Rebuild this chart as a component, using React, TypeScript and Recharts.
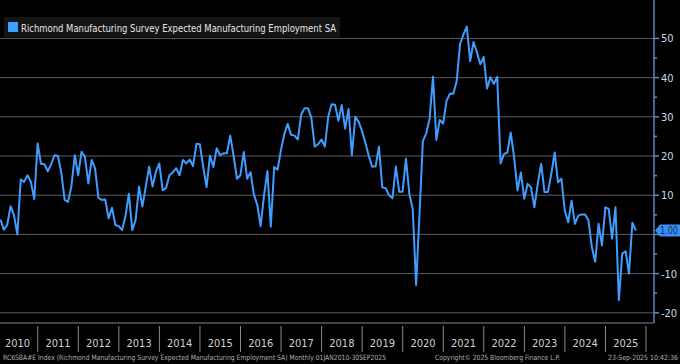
import React from 'react';
import { LineChart, Line, XAxis, YAxis, ReferenceLine } from 'recharts';

const years = [2010, 2011, 2012, 2013, 2014, 2015, 2016, 2017, 2018, 2019, 2020, 2021, 2022, 2023, 2024, 2025];

const v2010 = [3.8, 1.2, 2.4, 7.2, 4.9, 0, 14, 13.4, 15.1, 13.4, 9.0, 23.2];
const v2011 = [18, 17.9, 16.1, 17.9, 20.2, 20, 15.8, 8.8, 8.3, 12.3, 20.2, 15.1];
const v2012 = [21.1, 19.8, 13, 19, 16.8, 9.3, 8.8, 8.9, 4.1, 6.8, 2.4, 2.1];
const v2013 = [1.1, 4.7, 10.4, 1.1, 3.7, 12.2, 7.1, 12.2, 17.3, 12.2, 16, 18.1];
const v2014 = [11.3, 11.8, 15.1, 15.8, 16.9, 15.1, 19, 18.1, 19.1, 17.4, 23.1, 23];
const v2015 = [17.2, 12.1, 20.1, 17.2, 22, 20.2, 20.7, 20.7, 25.2, 20, 14.2, 15.1];
const v2016 = [21, 14.2, 15.9, 10.2, 7.5, 2.1, 10, 16.2, 2, 17.2, 16.5, 21.5];
const v2017 = [25.6, 28.2, 25.4, 25.2, 24.2, 30.6, 32.2, 32.2, 29.8, 22.4, 23, 24.2];
const v2018 = [22.4, 30, 33.2, 33.1, 29, 33, 27, 32, 20.2, 30, 28.7, 26.4];
const v2019 = [23.4, 20, 17.3, 17.3, 22.4, 12, 11.8, 10, 9.2, 17.3, 10.9, 10.9];
const v2020 = [19.3, 10.3, 6.5, -12.9, 5, 23.8, 25.8, 29.5, 40.2, 24.1, 29.2, 28.3];
const v2021 = [34, 35.9, 35.9, 39, 48.5, 51, 53, 44.2, 49.1, 46.4, 43.4, 45.3];
const v2022 = [37.2, 40.1, 38.4, 40.2, 18.1, 20.5, 20.9, 26, 19.7, 11.2, 15.8, 9.1];
const v2023 = [12.9, 12, 6.9, 12.9, 18, 10.8, 10.8, 15.4, 20.9, 13.3, 14.2, 6.1];
const v2024 = [3.1, 8.6, 2.7, 4.8, 5.1, 5.1, 3.6, -3.2, -7, 2.7, -2.8, 6.9];
const v2025 = [6.5, -1.1, 6.9, -16.8, -4.9, -4.3, -10, 3, 1.0];

const valuesByYear = [v2010, v2011, v2012, v2013, v2014, v2015, v2016, v2017, v2018, v2019, v2020, v2021, v2022, v2023, v2024, v2025];

const yTicks = [-20, -15, -10, -5, 0, 5, 10, 15, 20, 25, 30, 35, 40, 45, 50];
const gridValues = [-20, -10, 0, 10, 20, 30, 40, 50];
const xLabelTicks = years.map((y) => y + 0.5);

const seriesName = 'Richmond Manufacturing Survey Expected Manufacturing Employment SA';
const footerLeft = 'RC6SBA#E Index (Richmond Manufacturing Survey Expected Manufacturing Employment SA)  Monthly 01JAN2010-30SEP2025';
const footerMid = 'Copyright\u00A9 2025 Bloomberg Finance L.P.';
const footerRight = '23-Sep-2025 10:42:36';

const data = valuesByYear.flatMap((vals, yi) =>
  vals.map((v, mi) => ({ t: years[yi] + (mi + 1) / 12 - 0.003, v }))
);
const lastValue = data[data.length - 1].v;

const W = 680;
const H = 364;
const Y_AXIS_W = 26;
const X_AXIS_H = 41;
const X_DOMAIN: [number, number] = [2010.069, 2026.197];
const Y_DOMAIN: [number, number] = [-22.6, 59.8];
const HALF_YEAR_PX = (W - Y_AXIS_W) / (X_DOMAIN[1] - X_DOMAIN[0]) / 2;

const LINE_COLOR = '#3f9dff';
const FONT = "'DejaVu Sans Condensed', 'Liberation Sans Narrow', 'DejaVu Sans', Arial, sans-serif";

const XTick = (props: any) => {
  const { x, y, payload } = props;
  const isLast = payload.value > 2025;
  return (
    <g>
      <line x1={x - HALF_YEAR_PX} x2={x - HALF_YEAR_PX} y1={y - 4} y2={y + 22} stroke="#8a8a8a" strokeWidth={1} />
      {isLast && (
        <line x1={x + HALF_YEAR_PX} x2={x + HALF_YEAR_PX} y1={y - 4} y2={y + 22} stroke="#8a8a8a" strokeWidth={1} />
      )}
      <text x={x} y={y + 17} textAnchor="middle" fill="#d0d0d0" fontSize={11} fontFamily={FONT}>
        {Math.floor(payload.value)}
      </text>
    </g>
  );
};

const YTick = (props: any) => {
  const { x, y, payload } = props;
  const v = payload.value;
  const major = v % 10 === 0;
  const hidden = Math.abs(v - lastValue) < 3;
  return (
    <g>
      <line x1={x - 7} x2={x - (major ? 2 : 4)} y1={y} y2={y} stroke="#4f8fd8" strokeWidth={1.5} />
      {major && !hidden && (
        <text x={x} y={y + 4} textAnchor="start" fill="#d8d8d8" fontSize={11} fontFamily={FONT}>
          {v}
        </text>
      )}
    </g>
  );
};

const ValueTag = (props: any) => {
  const vb = props.viewBox || {};
  const x0 = (vb.x || 0) + (vb.width || 0) + 1;
  const y0 = vb.y || 0;
  return (
    <g>
      <polygon
        points={`${x0},${y0} ${x0 + 5},${y0 - 6} ${W},${y0 - 6} ${W},${y0 + 6} ${x0 + 5},${y0 + 6}`}
        fill="#3b8ff0"
      />
      <text x={x0 + 5} y={y0 + 4} fill="#0d2a5c" fontSize={10} fontFamily={FONT} textLength={18} lengthAdjust="spacingAndGlyphs">
        {lastValue.toFixed(2)}
      </text>
    </g>
  );
};

export default function App() {
  return (
    <div style={{ position: 'absolute', left: 0, top: 0, width: W, height: H, background: '#000' }}>
      <LineChart width={W} height={H} data={data} margin={{ top: 0, right: 0, bottom: 0, left: 0 }} style={{ background: '#000' }}>
        {gridValues.map((g) => (
          <ReferenceLine key={g} y={g} stroke="#5c5c5c" strokeWidth={1} ifOverflow="hidden" />
        ))}
        <XAxis
          dataKey="t"
          type="number"
          domain={X_DOMAIN}
          allowDataOverflow
          ticks={xLabelTicks}
          interval={0}
          height={X_AXIS_H}
          tick={<XTick />}
          tickLine={false}
          axisLine={{ stroke: '#7d8794', strokeWidth: 1 }}
          tickSize={5}
          tickMargin={2}
        />
        <YAxis
          orientation="right"
          type="number"
          domain={Y_DOMAIN}
          allowDataOverflow
          ticks={yTicks}
          interval={0}
          width={Y_AXIS_W}
          tick={<YTick />}
          tickLine={false}
          tickSize={5}
          tickMargin={2}
          axisLine={{ stroke: '#5b85b8', strokeWidth: 1.5 }}
        />
        <Line
          type="linear"
          dataKey="v"
          stroke={LINE_COLOR}
          strokeWidth={2}
          dot={false}
          activeDot={false}
          isAnimationActive={false}
          strokeLinejoin="round"
        />
        <ReferenceLine y={lastValue} stroke="none" ifOverflow="visible" label={<ValueTag />} />
      </LineChart>
      <svg width={W} height={H} style={{ position: 'absolute', left: 0, top: 0, pointerEvents: 'none' }}>
        <rect x={4} y={17} width={336} height={20} fill="#141414" />
        <rect x={8} y={22} width={10} height={10} fill={LINE_COLOR} />
        <text x={21} y={31.5} fill="#e6e6e6" fontSize={11} fontFamily={FONT} textLength={315} lengthAdjust="spacingAndGlyphs">
          {seriesName}
        </text>
        <text x={3} y={360} fill="#b0b0b0" fontSize={7.2} fontFamily={FONT} textLength={383} lengthAdjust="spacingAndGlyphs">
          {footerLeft}
        </text>
        <text x={435} y={360} fill="#b0b0b0" fontSize={7.2} fontFamily={FONT} textLength={125} lengthAdjust="spacingAndGlyphs">
          {footerMid}
        </text>
        <text x={608} y={360} fill="#b0b0b0" fontSize={7.2} fontFamily={FONT} textLength={70} lengthAdjust="spacingAndGlyphs">
          {footerRight}
        </text>
      </svg>
    </div>
  );
}
